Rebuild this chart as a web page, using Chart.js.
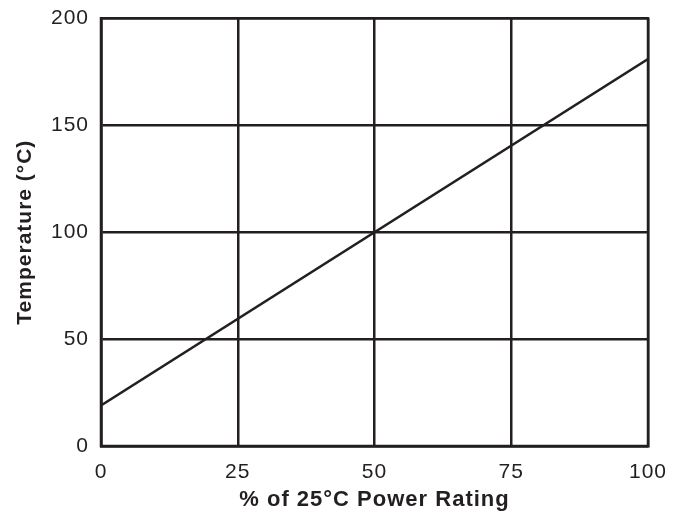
<!DOCTYPE html>
<html>
<head>
<meta charset="utf-8">
<script src="https://cdn.jsdelivr.net/npm/chart.js@4/dist/chart.umd.min.js"></script>
<style>
  html, body { margin: 0; padding: 0; background: #fff; }
  #wrap { width: 678px; height: 513px; }
</style>
</head>
<body>
<div id="wrap"><canvas id="chart" width="678" height="513"></canvas></div>
<script>
const powerPct = [0, 100];
const temperature = [19, 181];
const xTicks = [0, 25, 50, 75, 100];
const yTicks = [0, 50, 100, 150, 200];

const INK = '#231f20';
const FONT = "'Liberation Sans', Arial, Helvetica, sans-serif";
const SPACING = '1px';

const points = powerPct.map((x, i) => ({ x, y: temperature[i] }));

new Chart(document.getElementById('chart'), {
    type: 'scatter',
    data: {
        datasets: [
            {
                data: points,
                showLine: true,
                borderColor: INK,
                borderWidth: 2.5,
                pointRadius: 0,
                fill: false
            }
        ]
    },
    options: {
        responsive: false,
        animation: false,
        layout: { padding: { top: 17, right: 30, left: 0, bottom: 0 } },
        plugins: { legend: { display: false }, tooltip: { enabled: false } },
        scales: {
            x: {
                type: 'linear',
                min: 0,
                max: 100,
                afterBuildTicks: (axis) => { axis.ticks = xTicks.map((v) => ({ value: v })); },
                afterFit: (axis) => {
                    axis.height = 67;
                    axis.paddingLeft = 0;
                    axis.paddingRight = 0;
                },
                grid: { color: INK, lineWidth: 2.5, drawTicks: false },
                border: { color: INK, width: 2.5 },
                ticks: {
                    color: INK,
                    padding: 14,
                    font: { family: FONT, size: 21 }
                },
                title: {
                    display: true,
                    text: '% of 25°C Power Rating',
                    color: INK,
                    padding: { top: 2, bottom: 0 },
                    font: { family: FONT, size: 22, weight: 'bold' }
                }
            },
            y: {
                type: 'linear',
                min: 0,
                max: 200,
                afterBuildTicks: (axis) => { axis.ticks = yTicks.map((v) => ({ value: v })); },
                afterFit: (axis) => { axis.width = 101; },
                grid: { color: INK, lineWidth: 2.5, drawTicks: false },
                border: { color: INK, width: 2.5 },
                ticks: {
                    color: INK,
                    padding: 12,
                    font: { family: FONT, size: 21, lineHeight: 0.6 }
                },
                title: {
                    display: true,
                    text: 'Temperature (°C)',
                    color: INK,
                    padding: { top: 13, bottom: 0 },
                    font: { family: FONT, size: 21, weight: 'bold' }
                }
            }
        }
    },
    plugins: [{
        id: 'spacing',
        beforeLayout(chart) { chart.ctx.letterSpacing = SPACING; },
        beforeDraw(chart) { chart.ctx.letterSpacing = SPACING; }
    }, {
        id: 'frame',
        afterDraw(chart) {
            const { ctx, chartArea: a } = chart;
            ctx.save();
            ctx.strokeStyle = INK;
            ctx.lineWidth = 2.5;
            ctx.strokeRect(a.left, a.top, a.right - a.left, a.bottom - a.top);
            ctx.restore();
        }
    }]
});
</script>
</body>
</html>
